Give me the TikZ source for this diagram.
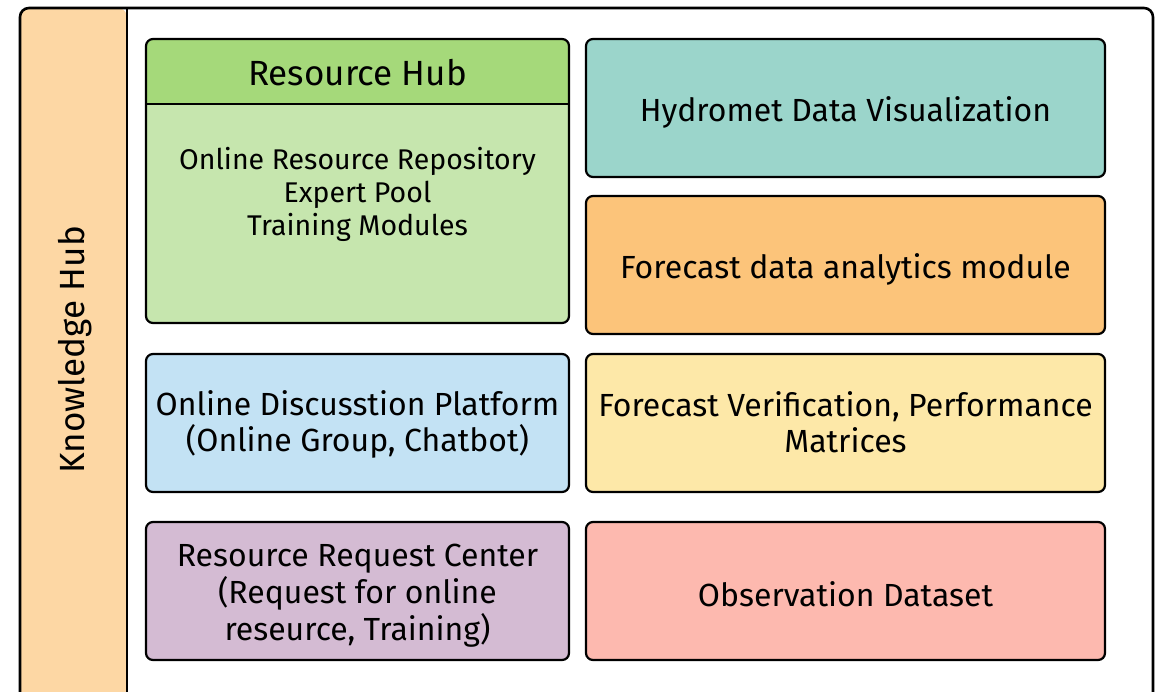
\documentclass[tikz,border=0pt]{standalone}
\usepackage{fontspec}
\setmainfont{Fira Sans}
\begin{document}
\begin{tikzpicture}[x=1pt,y=-1pt,
  box/.style={draw=black,line width=2.2pt,rounded corners=7pt},
  lbl/.style={align=center,font=\fontsize{32}{37}\selectfont,inner sep=0pt},
  hdr/.style={font=\fontsize{35}{40}\selectfont,inner sep=0pt}]
\useasboundingbox (0,0) rectangle (1155,691);
\definecolor{peach}{HTML}{FDD7A4}
\definecolor{hubhead}{HTML}{A5D97A}
\definecolor{hubbody}{HTML}{C6E6AE}
\definecolor{teal}{HTML}{9BD5CB}
\definecolor{orng}{HTML}{FCC47A}
\definecolor{lblue}{HTML}{C3E2F4}
\definecolor{lyel}{HTML}{FDE8A8}
\definecolor{lpurp}{HTML}{D4BBD3}
\definecolor{lred}{HTML}{FDB9AF}
% outer frame
\begin{scope}
\clip (0,0) rectangle (1155,691);
\path[fill=peach,rounded corners=9pt] (20,8) rectangle (127,720);
\draw[line width=2.6pt,rounded corners=9pt] (20,720) -- (20,8) -- (1153,8) -- (1153,720);
\draw[line width=2.6pt] (127,8) -- (127,720);
\end{scope}
\node[rotate=90,hdr] (kh) at (75,350) {Knowledge Hub};
% resource hub
\path[fill=hubbody,rounded corners=7pt] (146,39) rectangle (569,323);
\path[fill=hubhead,rounded corners=7pt] (146,39) rectangle (569,80);
\fill[hubhead] (146,60) rectangle (569,104);
\draw[box] (146,39) rectangle (569,323);
\draw[line width=2.2pt] (146,104) -- (569,104);
\node[hdr] (rh) at (357.5,73) {Resource Hub};
\node[lbl,font=\fontsize{28.5}{33}\selectfont] (rhb) at (357.5,194) {Online Resource Repository\\Expert Pool\\Training Modules};
% other boxes
\draw[box,fill=teal] (586,39) rectangle node[lbl,yshift=-4pt] (hyd) {Hydromet Data Visualization} (1105,177);
\draw[box,fill=orng] (586,196) rectangle node[lbl,yshift=-4pt] (fda) {Forecast data analytics module} (1105,334);
\draw[box,fill=lblue] (146,354) rectangle node[lbl,font=\fontsize{32}{36}\selectfont,yshift=-1pt] (odp) {Online Discusstion Platform\\(Online Group, Chatbot)} (569,492);
\draw[box,fill=lyel] (586,354) rectangle node[lbl,font=\fontsize{32}{36}\selectfont,yshift=1pt] (fv) {Forecast Verification, Performance\\Matrices} (1105,492);
\draw[box,fill=lpurp] (146,522) rectangle node[lbl,yshift=-5pt] (rrc) {Resource Request Center\\(Request for online\\reseurce, Training)} (569,660);
\draw[box,fill=lred] (586,522) rectangle node[lbl,yshift=-3pt] (obs) {Observation Dataset} (1105,660);
\end{tikzpicture}
\end{document}
